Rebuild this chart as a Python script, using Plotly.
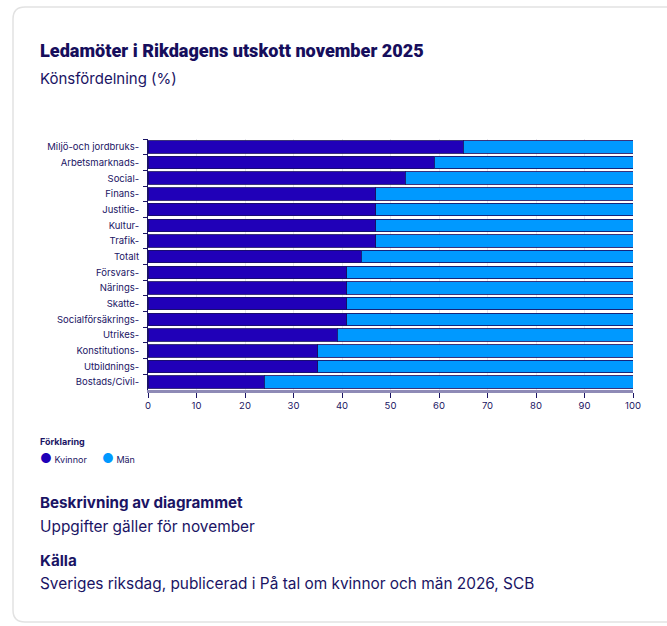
import plotly.graph_objects as go

categories = ["Miljö-och jordbruks-", "Arbetsmarknads-", "Social-", "Finans-", "Justitie-",
              "Kultur-", "Trafik-", "Totalt", "Försvars-", "Närings-", "Skatte-",
              "Socialförsäkrings-", "Utrikes-", "Konstitutions-", "Utbildnings-", "Bostads/Civil-"]
kvinnor = [65, 59, 53, 47, 47, 47, 47, 44, 41, 41, 41, 41, 39, 35, 35, 24]
man = [35, 41, 47, 53, 53, 53, 53, 56, 59, 59, 59, 59, 61, 65, 65, 76]
x_ticks = [0, 10, 20, 30, 40, 50, 60, 70, 80, 90, 100]

C_K = "#2000B8"
C_M = "#0099FF"
TXT = "#1A1464"
FONT = "Inter"

W, H = 667, 626
L, R, T, B = 148, 34, 139, 236
PW = W - L - R
PH = H - T - B


def px(x):
    return (x - L) / PW


def py(y):
    return (H - B - y) / PH


fig = go.Figure()
fig.add_trace(go.Bar(y=categories, x=kvinnor, name="Kvinnor", orientation="h",
                     marker=dict(color=C_K, line=dict(color="rgba(25,15,100,0.85)", width=1)),
                     showlegend=False))
fig.add_trace(go.Bar(y=categories, x=man, name="Män", orientation="h",
                     marker=dict(color=C_M, line=dict(color="rgba(25,15,100,0.85)", width=1)),
                     showlegend=False))

# card border (rounded, open on the right side)
x0, x1 = px(13), px(700)
y0, y1 = py(622), py(7)
rx, ry = 12 / PW, 12 / PH
path = (f"M {x1},{y1} L {x0+rx},{y1} Q {x0},{y1} {x0},{y1-ry} "
        f"L {x0},{y0+ry} Q {x0},{y0} {x0+rx},{y0} L {x1},{y0}")
shapes = [dict(type="path", path=path, xref="paper", yref="paper",
               line=dict(color="#E2E2E2", width=1.5), layer="below")]

annotations = [
    dict(text="Ledamöter i Rikdagens utskott november 2025", x=px(38), y=py(50),
         font=dict(size=18.1, color="#160E5C", family="Roboto", weight=900)),
    dict(text="Könsfördelning (%)", x=px(38), y=py(78), font=dict(size=15, color=TXT, family=FONT)),
    dict(text="<b>Förklaring</b>", x=px(38), y=py(441), font=dict(size=9, color=TXT, family=FONT)),
    dict(text=f'<span style="color:{C_K};font-size:13px">●</span> Kvinnor', x=px(38), y=py(458),
         font=dict(size=9, color=TXT, family=FONT)),
    dict(text=f'<span style="color:{C_M};font-size:13px">●</span> Män', x=px(100), y=py(458),
         font=dict(size=9, color=TXT, family=FONT)),
    dict(text="<b>Beskrivning av diagrammet</b>", x=px(38), y=py(502),
         font=dict(size=15.2, color=TXT, family=FONT)),
    dict(text="Uppgifter gäller för november", x=px(38), y=py(526),
         font=dict(size=15.4, color=TXT, family=FONT)),
    dict(text="<b>Källa</b>", x=px(38), y=py(560), font=dict(size=15.2, color=TXT, family=FONT)),
    dict(text="Sveriges riksdag, publicerad i På tal om kvinnor och män 2026, SCB", x=px(38), y=py(583),
         font=dict(size=15.4, color=TXT, family=FONT)),
]
for a in annotations:
    a.update(xref="paper", yref="paper", xanchor="left", yanchor="middle", showarrow=False)

fig.update_layout(
    width=W, height=H,
    margin=dict(l=L, r=R, t=T, b=B, autoexpand=False),
    barmode="stack", bargap=0.2,
    paper_bgcolor="white", plot_bgcolor="white",
    font=dict(family=FONT, color=TXT, size=10),
    shapes=shapes, annotations=annotations,
    showlegend=False,
    xaxis=dict(range=[0, 100], tickvals=x_ticks, showgrid=True, gridcolor="#E6E6EE", gridwidth=1,
               zeroline=False, showline=True, linecolor="#8E8AB6", linewidth=3,
               ticks="outside", ticklen=5, tickcolor=TXT, tickfont=dict(size=9.5, color=TXT),
               fixedrange=True),
    yaxis=dict(autorange="reversed", showline=True, linecolor=TXT, linewidth=1,
               ticks="outside", tickson="boundaries", ticklen=4, tickcolor=TXT,
               tickfont=dict(size=9.5, color=TXT), showgrid=False, ticklabelstandoff=6,
               fixedrange=True),
)

fig.write_html("out.html", post_script="document.body.style.margin='0';",
               config={"displayModeBar": False})
